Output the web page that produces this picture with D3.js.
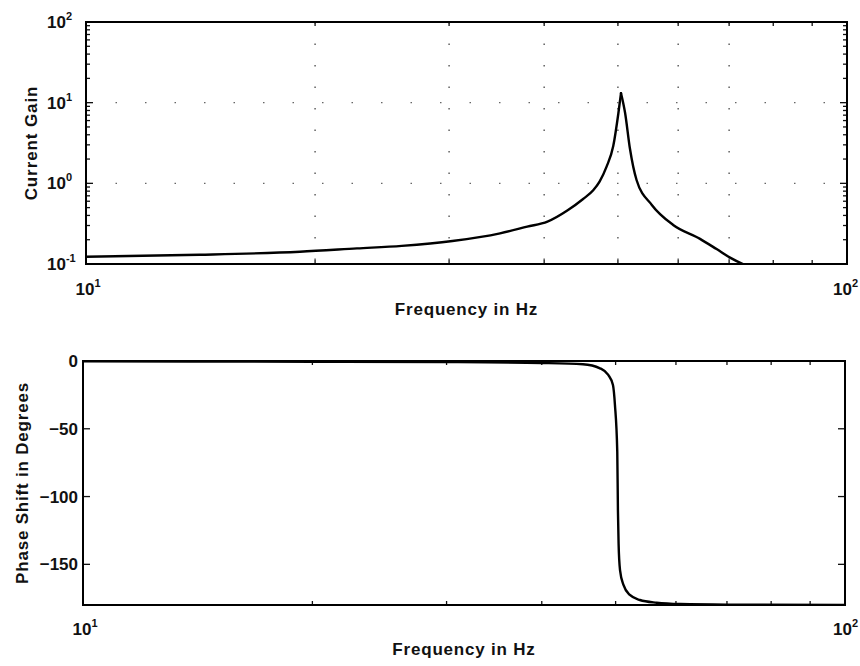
<!DOCTYPE html>
<html>
<head>
<meta charset="utf-8">
<script src="https://cdn.jsdelivr.net/npm/d3@7"></script>
<style>
  html, body { margin: 0; padding: 0; background: #fff; }
  svg { display: block; }
  text { font-family: "Liberation Sans", Arial, Helvetica, sans-serif; font-weight: bold; fill: #111; }
</style>
</head>
<body>
<svg id="chart" width="860" height="666"></svg>
<script>
// ---------- data ----------
const gainFreq  = [10, 14.1, 19.1, 22.7, 26.0, 30.3, 35.0, 38.0, 40.4, 42.9, 45.0, 46.4, 47.3, 48.3, 49.3, 50.07, 50.47, 51.1, 51.85, 52.9, 55.4, 59.1, 64.1, 67.4, 70.2, 73.0, 76.9];
const gainValue = [0.123, 0.130, 0.142, 0.156, 0.168, 0.193, 0.240, 0.290, 0.335, 0.460, 0.64, 0.82, 1.05, 1.6, 2.9, 7.4, 13.1, 7.45, 2.7, 1.1, 0.54, 0.305, 0.205, 0.153, 0.120, 0.100, 0.085];

const phaseFreq  = [10, 20, 30, 40, 45.3, 47.7, 48.9, 49.6, 49.9, 50.25, 50.35, 50.45, 50.67, 51.2, 52.2, 53.8, 56.6, 60.8, 70, 100];
const phaseValue = [-0.3, -0.5, -0.8, -1.5, -2.4, -5.4, -10.3, -17.7, -32.5, -67, -110, -134.5, -154.2, -165.2, -172.6, -176.3, -178.3, -179.3, -179.7, -179.9];

const freqTickValues  = [10, 100];
const freqTickLabels  = ["1", "2"];          // exponents of 10
const gainTickValues  = [0.1, 1, 10, 100];
const gainTickLabels  = ["-1", "0", "1", "2"]; // exponents of 10
const phaseTickValues = [0, -50, -100, -150];
const phaseTickLabels = ["0", "\u221250", "\u2212100", "\u2212150"];
const gridFreqs = [20, 30, 40, 50, 60, 70];
const gridGains = [1, 10];

const xTitle = "Frequency in Hz";
const gainTitle = "Current Gain";
const phaseTitle = "Phase Shift in Degrees";

// ---------- layout ----------
const svg = d3.select("#chart");
const boxT = { left: 86, right: 847, top: 22, bottom: 264 };
const boxB = { left: 83, right: 845, top: 361, bottom: 605 };

const xTop = d3.scaleLog().domain([10, 100]).range([boxT.left, boxT.right]);
const yGain = d3.scaleLog().domain([0.1, 100]).range([boxT.bottom, boxT.top]);
const xBot = d3.scaleLog().domain([10, 100]).range([boxB.left, boxB.right]);
const yPhase = d3.scaleLinear().domain([-180, 0]).range([boxB.bottom, boxB.top]);

const defs = svg.append("defs");
defs.append("clipPath").attr("id", "clipTop").append("rect")
  .attr("x", boxT.left).attr("y", boxT.top).attr("width", boxT.right - boxT.left).attr("height", boxT.bottom - boxT.top);
defs.append("clipPath").attr("id", "clipBot").append("rect")
  .attr("x", boxB.left).attr("y", boxB.top - 2).attr("width", boxB.right - boxB.left).attr("height", boxB.bottom - boxB.top + 2);

function powLabel(g, x, y, exp, anchor) {
  const t = g.append("text").attr("x", x).attr("y", y).attr("text-anchor", anchor)
    .style("font-size", "17px");
  t.append("tspan").text("10");
  t.append("tspan").attr("dy", -8).style("font-size", "11px").text(exp);
  return t;
}

// ---------- top panel ----------
const gT = svg.append("g");

// dotted grid
gT.append("g").selectAll("line").data(gridFreqs).join("line")
  .attr("x1", d => xTop(d)).attr("x2", d => xTop(d))
  .attr("y1", boxT.top).attr("y2", boxT.bottom)
  .attr("stroke", "#555").attr("stroke-width", 1.4).attr("stroke-dasharray", "1.5,20");
gT.append("g").selectAll("line").data(gridGains).join("line")
  .attr("x1", boxT.left).attr("x2", boxT.right)
  .attr("y1", d => yGain(d)).attr("y2", d => yGain(d))
  .attr("stroke", "#666").attr("stroke-width", 1.2).attr("stroke-dasharray", "1.5,28");

// minor / major ticks, inward on all sides
const gainMinor = yGain.ticks().filter(v => !gainTickValues.some(m => Math.abs(m - v) < 1e-9));
const freqMinor = xTop.ticks().filter(v => v !== 10 && v !== 100);
const tk = gT.append("g").attr("stroke", "#111").attr("stroke-width", 1.3);
gainMinor.forEach(v => {
  tk.append("line").attr("x1", boxT.left).attr("x2", boxT.left + 4).attr("y1", yGain(v)).attr("y2", yGain(v));
  tk.append("line").attr("x1", boxT.right).attr("x2", boxT.right - 4).attr("y1", yGain(v)).attr("y2", yGain(v));
});
gainTickValues.forEach(v => {
  tk.append("line").attr("x1", boxT.left).attr("x2", boxT.left + 7).attr("y1", yGain(v)).attr("y2", yGain(v));
  tk.append("line").attr("x1", boxT.right).attr("x2", boxT.right - 7).attr("y1", yGain(v)).attr("y2", yGain(v));
});
freqMinor.forEach(v => {
  tk.append("line").attr("x1", xTop(v)).attr("x2", xTop(v)).attr("y1", boxT.bottom).attr("y2", boxT.bottom - 4);
  tk.append("line").attr("x1", xTop(v)).attr("x2", xTop(v)).attr("y1", boxT.top).attr("y2", boxT.top + 4);
});

// curve: two monotone branches meeting at a sharp resonance peak
const gainData = gainFreq.map((f, i) => [f, gainValue[i]]);
const peakIdx = d3.maxIndex(gainValue);
const gainLine = d3.line().x(d => xTop(d[0])).y(d => yGain(d[1])).curve(d3.curveMonotoneX);
[gainData.slice(0, peakIdx + 1), gainData.slice(peakIdx)].forEach(seg => {
  gT.append("path").datum(seg)
    .attr("clip-path", "url(#clipTop)")
    .attr("fill", "none").attr("stroke", "#000").attr("stroke-width", 2.4)
    .attr("stroke-linejoin", "round").attr("stroke-linecap", "round")
    .attr("d", gainLine);
});

// frame
gT.append("rect").attr("x", boxT.left).attr("y", boxT.top)
  .attr("width", boxT.right - boxT.left).attr("height", boxT.bottom - boxT.top)
  .attr("fill", "none").attr("stroke", "#000").attr("stroke-width", 2);

// tick labels
gainTickValues.forEach((v, i) => powLabel(gT, 47, yGain(v) + 6, gainTickLabels[i], "start"));
powLabel(gT, xTop(freqTickValues[0]) + 2, boxT.bottom + 31, freqTickLabels[0], "middle");
powLabel(gT, 858, boxT.bottom + 31, freqTickLabels[1], "end");

// titles
gT.append("text").attr("x", (boxT.left + boxT.right) / 2).attr("y", 315).attr("text-anchor", "middle")
  .style("font-size", "17px").style("letter-spacing", "0.8px").text(xTitle);
gT.append("text").attr("transform", `translate(37,${(boxT.top + boxT.bottom) / 2}) rotate(-90)`)
  .attr("text-anchor", "middle").style("font-size", "17px").style("letter-spacing", "0.9px").text(gainTitle);

// ---------- bottom panel ----------
const gB = svg.append("g");
const tkB = gB.append("g").attr("stroke", "#111").attr("stroke-width", 1.3);
const freqMinorB = xBot.ticks().filter(v => v !== 10 && v !== 100);
freqMinorB.forEach(v => {
  tkB.append("line").attr("x1", xBot(v)).attr("x2", xBot(v)).attr("y1", boxB.bottom).attr("y2", boxB.bottom - 4);
  tkB.append("line").attr("x1", xBot(v)).attr("x2", xBot(v)).attr("y1", boxB.top).attr("y2", boxB.top + 4);
});
phaseTickValues.forEach(v => {
  tkB.append("line").attr("x1", boxB.left).attr("x2", boxB.left + 7).attr("y1", yPhase(v)).attr("y2", yPhase(v));
  tkB.append("line").attr("x1", boxB.right).attr("x2", boxB.right - 7).attr("y1", yPhase(v)).attr("y2", yPhase(v));
});

const phaseData = phaseFreq.map((f, i) => [f, phaseValue[i]]);
gB.append("path").datum(phaseData)
  .attr("clip-path", "url(#clipBot)")
  .attr("fill", "none").attr("stroke", "#000").attr("stroke-width", 2.4).attr("stroke-linejoin", "round")
  .attr("d", d3.line().x(d => xBot(d[0])).y(d => yPhase(d[1])).curve(d3.curveMonotoneX));

gB.append("rect").attr("x", boxB.left).attr("y", boxB.top)
  .attr("width", boxB.right - boxB.left).attr("height", boxB.bottom - boxB.top)
  .attr("fill", "none").attr("stroke", "#000").attr("stroke-width", 2);

phaseTickValues.forEach((v, i) => {
  gB.append("text").attr("x", boxB.left - 5).attr("y", yPhase(v) + 6).attr("text-anchor", "end")
    .style("font-size", "17px").text(phaseTickLabels[i]);
});
powLabel(gB, xBot(freqTickValues[0]) + 2, boxB.bottom + 30, freqTickLabels[0], "middle");
powLabel(gB, 858, boxB.bottom + 30, freqTickLabels[1], "end");

gB.append("text").attr("x", (boxB.left + boxB.right) / 2).attr("y", 655).attr("text-anchor", "middle")
  .style("font-size", "17px").style("letter-spacing", "0.8px").text(xTitle);
gB.append("text").attr("transform", `translate(28,${(boxB.top + boxB.bottom) / 2}) rotate(-90)`)
  .attr("text-anchor", "middle").style("font-size", "17px").style("letter-spacing", "0.8px").text(phaseTitle);
</script>
</body>
</html>
